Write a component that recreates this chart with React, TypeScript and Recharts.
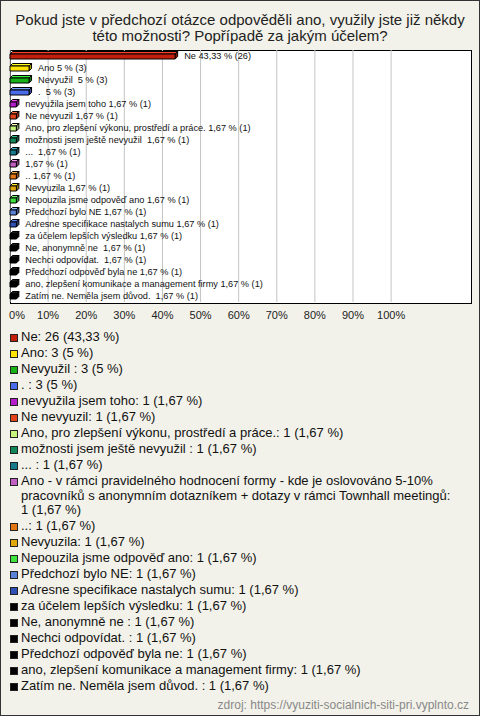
import { BarChart, Bar, XAxis, YAxis, CartesianGrid, Cell, LabelList } from 'recharts';

const title = 'Pokud jste v předchozí otázce odpověděli ano, využily jste již někdy této možnosti? Popřípadě za jakým účelem?';

const names = [
  'Ne',
  'Ano',
  'Nevyužil ',
  '. ',
  'nevyužila jsem toho',
  'Ne nevyuzil',
  'Ano, pro zlepšení výkonu, prostředí a práce.',
  'možnosti jsem ještě nevyužil ',
  '... ',
  'Ano - v rámci pravidelného hodnocení formy - kde je oslovováno 5-10% pracovníků s anonymním dotazníkem + dotazy v rámci Townhall meetingů',
  '..',
  'Nevyuzila',
  'Nepouzila jsme odpověď ano',
  'Předchozí bylo NE',
  'Adresne specifikace nastalych sumu',
  'za účelem lepších výsledku',
  'Ne, anonymně ne ',
  'Nechci odpovídat. ',
  'Předchozí odpověď byla ne',
  'ano, zlepšení komunikace a management firmy',
  'Zatím ne. Neměla jsem důvod. ',
];

const counts = [26, 3, 3, 3, 1, 1, 1, 1, 1, 1, 1, 1, 1, 1, 1, 1, 1, 1, 1, 1, 1];

const percents = [43.33, 5, 5, 5, 1.67, 1.67, 1.67, 1.67, 1.67, 1.67, 1.67, 1.67, 1.67, 1.67, 1.67, 1.67, 1.67, 1.67, 1.67, 1.67, 1.67];

const colors = [
  '#C21E0C', '#FFE400', '#17B117', '#4A6CEB', '#B51CCB', '#E2431A', '#C6F27E',
  '#12875A', '#167B8C', '#C25EC4', '#E27612', '#E2A70A', '#3EE33E', '#5A82D6',
  '#2E4FB3', '#000000', '#000000', '#000000', '#000000', '#000000', '#000000',
];

const xTicks = [0, 10, 20, 30, 40, 50, 60, 70, 80, 90, 100];

const source = 'zdroj: https://vyuziti-socialnich-siti-pri.vyplnto.cz';

const data = names.map((name, i) => ({ name, pct: percents[i], count: counts[i], color: colors[i] }));

const FONT = '"Liberation Sans", Arial, sans-serif';
const fmt = (v: number) => String(v).replace('.', ',');

function shade(hex: string, f: number, add: number) {
  const n = parseInt(hex.slice(1), 16);
  const ch = [(n >> 16) & 255, (n >> 8) & 255, n & 255].map(c => Math.max(0, Math.min(255, Math.round(c * f + add))));
  return `rgb(${ch[0]},${ch[1]},${ch[2]})`;
}

const D = 2.5;

const Bar3D = (props: any) => {
  const { x, y, width, height, fill } = props;
  if (width == null || height == null) return null;
  const top = `M${x},${y} L${x + D},${y - D} L${x + width + D},${y - D} L${x + width},${y} Z`;
  const side = `M${x + width},${y} L${x + width + D},${y - D} L${x + width + D},${y + height - D} L${x + width},${y + height} Z`;
  return (
    <g stroke="#000" strokeWidth={1} strokeLinejoin="round">
      <path d={top} fill={shade(fill, 1.25, 25)} />
      <path d={side} fill={shade(fill, 0.7, 0)} />
      <rect x={x} y={y} width={width} height={height} fill={fill} />
    </g>
  );
};

const BarLabel = (props: any) => {
  const { x, y, width, height, index } = props;
  const n = names[index];
  const text = (n.length > 80 ? '' : n + ' ') + `${fmt(percents[index])} % (${counts[index]})`;
  return (
    <text x={x + width + 9} y={y + height / 2 - 1} dy={3} fontSize={9.2} fontFamily={FONT} fill="#111" style={{ whiteSpace: 'pre' }}>
      {text}
    </text>
  );
};

const XTick = (props: any) => {
  const { x, y, payload } = props;
  const first = payload.value === 0;
  return (
    <text x={first ? x - 1 : x} y={y} dy={15} textAnchor={first ? 'start' : 'middle'} fontSize={11} fontFamily={FONT} fill="#222">
      {payload.value}%
    </text>
  );
};

export default function App() {
  return (
    <div style={{ position: 'absolute', left: 0, top: 0, width: 480, height: 716, boxSizing: 'border-box', border: '1px solid #333', background: '#F3F2EA', fontFamily: FONT, overflow: 'hidden' }}>
      <div style={{ position: 'absolute', left: 0, top: 11, width: 478, textAlign: 'center', fontSize: 15, lineHeight: '16px', color: '#222' }}>
        {title}
      </div>
      <div style={{ position: 'absolute', left: 9, top: 49, width: 462, height: 254, boxSizing: 'border-box', border: '1px solid #000', background: '#fff' }} />
      <div style={{ position: 'absolute', left: -1, top: -1 }}>
        <BarChart width={480} height={330} data={data} layout="vertical" margin={{ top: 50, right: 10, bottom: 8, left: 10 }} barSize={5}>
          <CartesianGrid horizontal={false} stroke="#C4C4C4" verticalValues={xTicks} />
          <XAxis type="number" domain={[0, 120.7]} ticks={xTicks} axisLine={false} tickLine={false} tickSize={0} height={20} tick={<XTick />} interval={0} />
          <YAxis type="category" dataKey="name" hide />
          <Bar dataKey="pct" shape={<Bar3D />} isAnimationActive={false}>
            {data.map((d, i) => <Cell key={i} fill={d.color} />)}
            <LabelList dataKey="pct" content={<BarLabel />} />
          </Bar>
        </BarChart>
      </div>
      <div style={{ position: 'absolute', left: 9, top: 329, width: 447, fontSize: 13, lineHeight: '14.5px', color: '#111' }}>
        {data.map((d, i) => (
          <div key={i} style={{ display: 'flex', alignItems: 'flex-start', marginBottom: 1.5 }}>
            <span style={{ flex: 'none', width: 8, height: 8, marginTop: 4, marginRight: 3, boxSizing: 'border-box', border: '1px solid #222', background: d.color }} />
            <span>{`${d.name}: ${d.count} (${fmt(d.pct)} %)`}</span>
          </div>
        ))}
      </div>
      <div style={{ position: 'absolute', right: 10, top: 697, fontSize: 12, color: '#888' }}>{source}</div>
    </div>
  );
}
